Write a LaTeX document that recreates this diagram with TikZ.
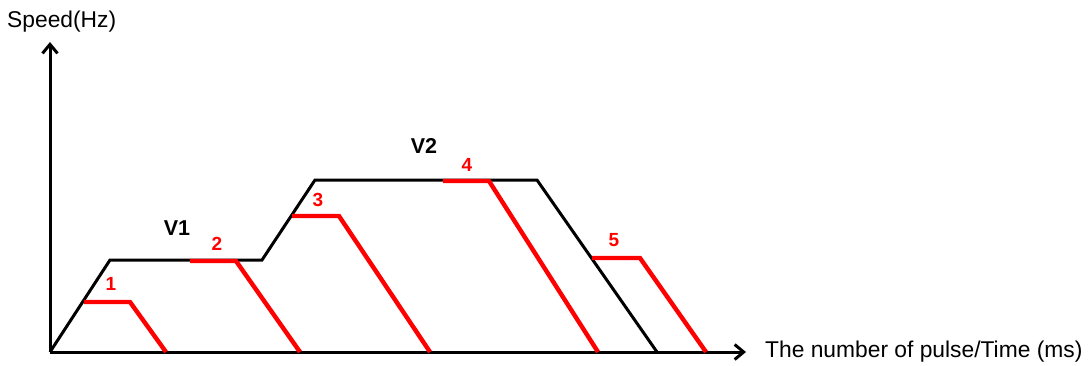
\documentclass[tikz,border=0pt]{standalone}
\usepackage{fontspec}
\setmainfont{Liberation Sans}
\usetikzlibrary{arrows.meta}
\begin{document}
\begin{tikzpicture}[x=1pt,y=-1pt,
  axis/.style={line width=3pt,-{Straight Barb[length=9pt,width=15pt,line width=3pt]}},
  prof/.style={line width=3pt,black,line join=miter},
  redp/.style={line width=4.4pt,red},
  num/.style={text=red,font=\fontsize{19}{21}\selectfont\bfseries,inner sep=0pt},
  vlab/.style={font=\fontsize{21.5}{24}\selectfont\bfseries,inner sep=0pt},
  axlab/.style={font=\fontsize{22.8}{26}\selectfont,inner sep=0pt}]
\useasboundingbox (0,0) rectangle (1088,365);
% coordinates
\coordinate (O) at (50,352);
\coordinate (ytip) at (50,42);
\coordinate (xtip) at (746,352);
\coordinate (p1) at (110,260);
\coordinate (p2) at (262,260);
\coordinate (p3) at (315,180);
\coordinate (p4) at (537,180);
\coordinate (p5) at (657,352);
% axes
\draw[axis] (O) -- (ytip);
\draw[axis] (O) -- (xtip);
% profile
\draw[prof] (O) -- (p1) -- (p2) -- (p3) -- (p4) -- (p5);
% red segments
\coordinate (a1) at (84,302); \coordinate (b1) at (130,302); \coordinate (c1) at (166,352);
\coordinate (a2) at (190,261); \coordinate (b2) at (236,261); \coordinate (c2) at (300,352);
\coordinate (a3) at (292,216); \coordinate (b3) at (339,216); \coordinate (c3) at (430,352);
\coordinate (a4) at (443,181); \coordinate (b4) at (489,181); \coordinate (c4) at (598,352);
\coordinate (a5) at (592,258); \coordinate (b5) at (640,258); \coordinate (c5) at (706,352);
\draw[redp] (a1) -- (b1) -- (c1);
\draw[redp] (a2) -- (b2) -- (c2);
\draw[redp] (a3) -- (b3) -- (c3);
\draw[redp] (a4) -- (b4) -- (c4);
\draw[redp] (a5) -- (b5) -- (c5);
% labels
\node[num] (n1) at (111,284) {1};
\node[num] (n2) at (217,244) {2};
\node[num] (n3) at (318,200) {3};
\node[num] (n4) at (467,165) {4};
\node[num] (n5) at (614,240) {5};
\node[vlab] (v1) at (177,228) {V1};
\node[vlab] (v2) at (424,146) {V2};
\node[axlab,anchor=west] (ylab) at (7,22) {Speed(Hz)};
\node[axlab,anchor=west] (xlab) at (765,352) {The number of pulse/Time (ms)};
\end{tikzpicture}
\end{document}
